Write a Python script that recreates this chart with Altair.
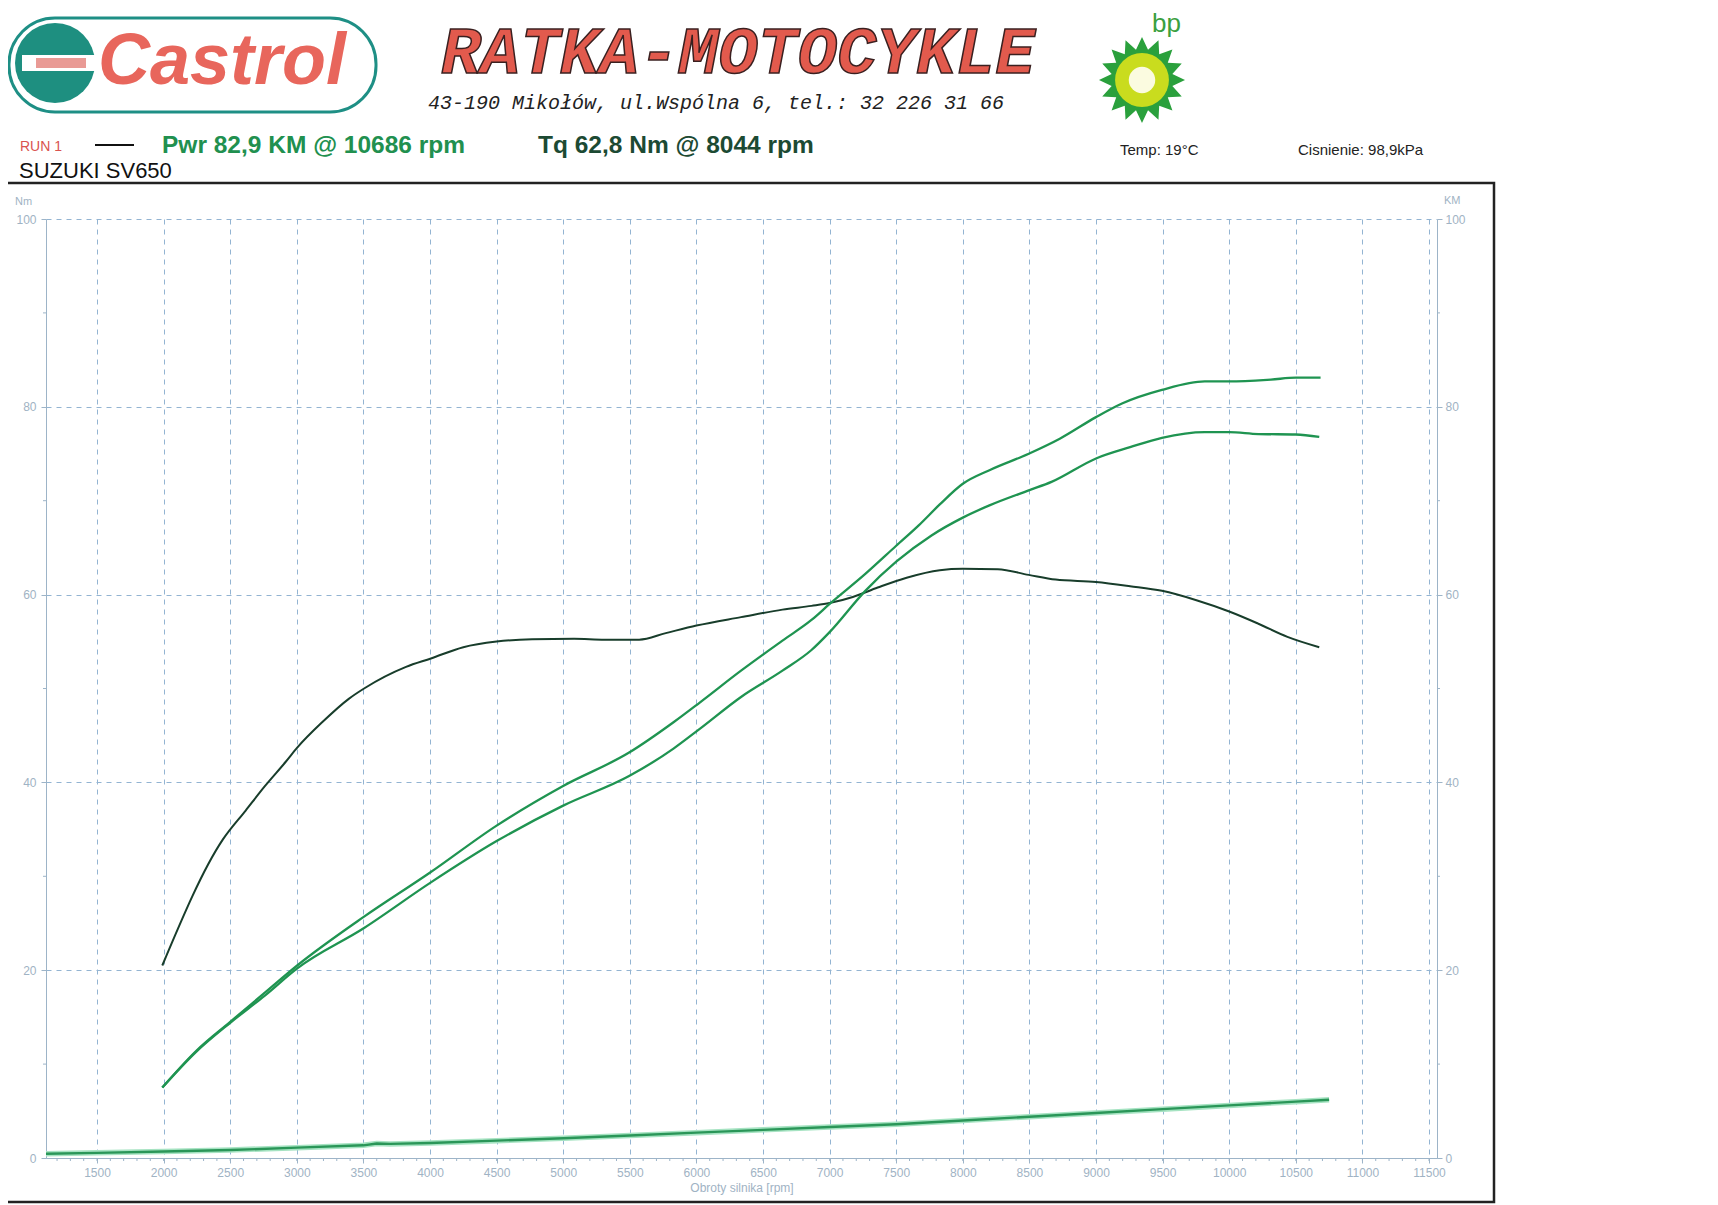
import math
import altair as alt
import pandas as pd

# ---------------- data read from the dyno sheet ----------------
tq_rpm = [1990, 2444, 2616, 2760, 2917, 3003, 3190, 3390, 3505, 3820, 4007, 4250, 4500,
          4767, 5082, 5311, 5570, 5770, 6000, 6335, 6646, 6864, 7000, 7174, 7361, 7578,
          7827, 8000, 8262, 8495, 8697, 9000, 9256, 9495, 9754, 10000, 10219, 10437, 10676]
tq_nm = [20.5, 33.9, 37.0, 39.6, 42.2, 43.7, 46.4, 48.9, 50.0, 52.3, 53.2, 54.4, 55.0,
         55.25, 55.3, 55.2, 55.2, 55.9, 56.7, 57.6, 58.4, 58.8, 59.1, 59.75, 60.75, 61.8,
         62.6, 62.75, 62.7, 62.1, 61.6, 61.35, 60.9, 60.4, 59.4, 58.2, 56.9, 55.5, 54.4]

pwr_rpm = [1990, 2244, 2500, 2760, 3003, 3505, 4001, 4500, 4996, 5498, 5828, 6025, 6335,
           6646, 6864, 7000, 7268, 7500, 7671, 7827, 8000, 8200, 8495, 8728, 9000, 9195,
           9495, 9816, 10000, 10313, 10500, 10686]
pwr_km = [7.5, 11.4, 14.5, 17.6, 20.5, 25.7, 30.4, 35.4, 39.6, 43.2, 46.4, 48.5, 51.9,
          55.1, 57.3, 59.0, 62.2, 65.2, 67.4, 69.6, 71.8, 73.25, 75.0, 76.6, 78.9, 80.35,
          81.8, 82.7, 82.7, 82.9, 83.1, 83.1]

pwr2_rpm = [1990, 2244, 2500, 2760, 3003, 3505, 4001, 4500, 4996, 5498, 5828, 6025, 6335,
            6646, 6864, 7000, 7268, 7500, 7765, 8000, 8200, 8495, 8666, 9000, 9256, 9495,
            9816, 10000, 10219, 10500, 10676]
pwr2_km = [7.5, 11.3, 14.4, 17.3, 20.2, 24.5, 29.3, 33.75, 37.5, 40.7, 43.6, 45.7, 49.1,
           51.9, 54.1, 56.0, 60.4, 63.5, 66.3, 68.2, 69.5, 71.1, 72.0, 74.5, 75.7, 76.7,
           77.3, 77.3, 77.1, 77.05, 76.8]

low_rpm = [1117, 1500, 2000, 2500, 3000, 3500, 3600, 3700, 4000, 4500, 5000, 5500, 6000,
           6500, 7000, 7500, 8000, 8500, 9000, 9500, 10000, 10500, 10750]
low_val = [0.45, 0.55, 0.7, 0.85, 1.1, 1.35, 1.55, 1.5, 1.6, 1.85, 2.1, 2.4, 2.7,
           3.0, 3.3, 3.6, 4.0, 4.4, 4.8, 5.2, 5.6, 6.0, 6.2]

x_major = [1500, 2000, 2500, 3000, 3500, 4000, 4500, 5000, 5500, 6000, 6500, 7000,
           7500, 8000, 8500, 9000, 9500, 10000, 10500, 11000, 11500]
x_minor = [r for r in range(1200, 11600, 100)]
y_major = [0, 20, 40, 60, 80, 100]
y_minor = [10, 30, 50, 70, 90]

# ---------------- styling ----------------
W, H = 1391, 939
LBL = "#9fb3c4"
AXC = "#9db4c8"
GRID = "#93b4d2"
FONT = "Liberation Sans"
TQ_COL = "#183d2b"
PW_COL = "#1f9451"

X_SCALE = alt.Scale(domain=[1117, 11560], nice=False, zero=False)
Y_SCALE = alt.Scale(domain=[0, 100], nice=False, zero=True)

ax_common = dict(labelColor=LBL, labelFont=FONT, labelFontSize=12, domainColor=AXC,
                 tickColor=AXC, gridColor=GRID, gridDash=[5, 5], gridWidth=1, tickSize=5)

one = pd.DataFrame({"a": [0]})

tq_df = pd.DataFrame({"rpm": tq_rpm, "val": tq_nm})
pw_df = pd.concat([
    pd.DataFrame({"rpm": pwr_rpm, "val": pwr_km, "series": "pwr"}),
    pd.DataFrame({"rpm": pwr2_rpm, "val": pwr2_km, "series": "pwr2"}),
])
low_df = pd.DataFrame({"rpm": low_rpm, "val": low_val})

# torque curve + left axis + x axis
torque = alt.Chart(tq_df).mark_line(color=TQ_COL, strokeWidth=2, interpolate="monotone").encode(
    x=alt.X("rpm:Q", scale=X_SCALE,
            axis=alt.Axis(values=x_major, format="d", title="Obroty silnika [rpm]", grid=True,
                          labelPadding=4, titleColor=LBL, titleFont=FONT, titleFontSize=12,
                          titleFontWeight="normal", titlePadding=4, **ax_common)),
    y=alt.Y("val:Q", scale=Y_SCALE,
            axis=alt.Axis(values=y_major, title=None, grid=True, labelPadding=5, **ax_common)),
)

# power curves + right axis
power = alt.Chart(pw_df).mark_line(color=PW_COL, strokeWidth=2.3, interpolate="monotone").encode(
    x=alt.X("rpm:Q", scale=X_SCALE, axis=None),
    y=alt.Y("val:Q", scale=Y_SCALE,
            axis=alt.Axis(orient="right", values=y_major, title=None, grid=False,
                          labelPadding=3, **ax_common)),
    detail="series:N",
)

low_halo = alt.Chart(low_df).mark_line(color="#a6e3c2", strokeWidth=5.5).encode(
    x=alt.X("rpm:Q", scale=X_SCALE, axis=None),
    y=alt.Y("val:Q", scale=Y_SCALE, axis=None),
)
low_line = alt.Chart(low_df).mark_line(color="#2a9658", strokeWidth=2.4).encode(
    x=alt.X("rpm:Q", scale=X_SCALE, axis=None),
    y=alt.Y("val:Q", scale=Y_SCALE, axis=None),
)

# minor ticks
xminor = alt.Chart(pd.DataFrame({"rpm": x_minor})).mark_rule(color=AXC, strokeWidth=1).encode(
    x=alt.X("rpm:Q", scale=X_SCALE, axis=None),
    y=alt.value(H), y2=alt.value(H + 3),
)
yminor_l = alt.Chart(pd.DataFrame({"val": y_minor})).mark_rule(color=AXC, strokeWidth=1).encode(
    y=alt.Y("val:Q", scale=Y_SCALE, axis=None),
    x=alt.value(-3), x2=alt.value(0),
)
yminor_r = alt.Chart(pd.DataFrame({"val": y_minor})).mark_rule(color=AXC, strokeWidth=1).encode(
    y=alt.Y("val:Q", scale=Y_SCALE, axis=None),
    x=alt.value(W), x2=alt.value(W + 3),
)


def txt(text, px, py, size, color="#000", weight="normal", style="normal", font=FONT,
        align="left", stroke=None, sw=0):
    kw = dict(text=text, fontSize=size, color=color, fontWeight=weight, fontStyle=style,
              font=font, align=align, baseline="middle")
    if stroke:
        kw.update(stroke=stroke, strokeWidth=sw)
    return alt.Chart(one).mark_text(**kw).encode(x=alt.value(px), y=alt.value(py))


# frame
frame = alt.Chart(one).mark_rect(fill=None, stroke="#222", strokeWidth=2.5).encode(
    x=alt.value(-60), x2=alt.value(1448), y=alt.value(-36), y2=alt.value(983))

# header texts
texts = [
    txt("RUN 1", -26, -72, 14, "#d9534f"),
    txt("Pwr 82,9 KM @ 10686 rpm", 116, -73, 24.5, "#21904f", "bold"),
    txt("Tq 62,8 Nm @ 8044 rpm", 492, -73, 24.5, "#1c4a33", "bold"),
    txt("SUZUKI SV650", -27, -48, 22, "#111"),
    txt("Temp: 19°C", 1074, -69, 15, "#222"),
    txt("Cisnienie: 98,9kPa", 1252, -69, 15, "#222"),
    txt("Nm", -31, -17, 11, LBL),
    txt("KM", 1398, -18, 11, LBL),
]
dash = alt.Chart(one).mark_rule(color="#111", strokeWidth=2).encode(
    x=alt.value(49), x2=alt.value(88), y=alt.value(-74))

# logos (approximations)
castrol_box = alt.Chart(one).mark_rect(fill=None, stroke="#1e8f85", strokeWidth=3, cornerRadius=46).encode(
    x=alt.value(-37), x2=alt.value(330), y=alt.value(-201), y2=alt.value(-107))
castrol_disc = alt.Chart(one).mark_point(shape="circle", filled=True, color="#1e8f80", opacity=1, size=6400).encode(
    x=alt.value(9), y=alt.value(-156))
castrol_band = alt.Chart(one).mark_rect(fill="#ffffff").encode(
    x=alt.value(-24), x2=alt.value(52), y=alt.value(-164), y2=alt.value(-148))
castrol_band2 = alt.Chart(one).mark_rect(fill="#e99a95").encode(
    x=alt.value(-10), x2=alt.value(40), y=alt.value(-161), y2=alt.value(-151))
castrol_txt = txt("Castrol", 52, -157, 72, "#e8665c", "bold", "italic")

ratka = txt("RATKA-MOTOCYKLE", 692, -166, 66, "#e25a4d", "bold", "italic",
            font="Liberation Mono", align="center", stroke="#3a2020", sw=1.5)
addr = txt("43-190 Mikołów,  ul.Wspólna 6,  tel.: 32 226 31 66", 670, -116, 20, "#222",
           "normal", "italic", font="Liberation Mono", align="center")

pts = []
n = 16
for i in range(2 * n):
    r = 1.0 if i % 2 == 0 else 0.72
    a = math.pi * i / n
    pts.append(f"{r * math.cos(a):.3f},{r * math.sin(a):.3f}")
star_path = "M" + " L".join(pts) + " Z"

bp_star = alt.Chart(one).mark_point(shape=star_path, filled=True, color="#2aa03c", opacity=1, size=7400).encode(
    x=alt.value(1096), y=alt.value(-139))
bp_ring = alt.Chart(one).mark_point(shape="circle", filled=True, color="#c9dc1e", opacity=1, size=2900).encode(
    x=alt.value(1096), y=alt.value(-139))
bp_core = alt.Chart(one).mark_point(shape="circle", filled=True, color="#fbfbe0", opacity=1, size=700).encode(
    x=alt.value(1096), y=alt.value(-139))
bp_txt = txt("bp", 1106, -195, 26, "#3aa040")

chart = alt.layer(
    frame, castrol_box, castrol_disc, castrol_band, castrol_band2, castrol_txt, ratka, addr,
    bp_star, bp_ring, bp_core, bp_txt, dash, *texts,
    xminor, yminor_l, yminor_r,
    low_halo, low_line, torque, power,
).resolve_scale(y="independent").resolve_axis(x="independent", y="independent").properties(
    width=W, height=H,
    padding={"left": 38, "top": 211, "right": 270, "bottom": 50},
    autosize=alt.AutoSizeParams(type="none"),
    background="white",
).configure_view(stroke=None)

chart.save("out.html", embed_options={"renderer": "svg", "actions": False})
